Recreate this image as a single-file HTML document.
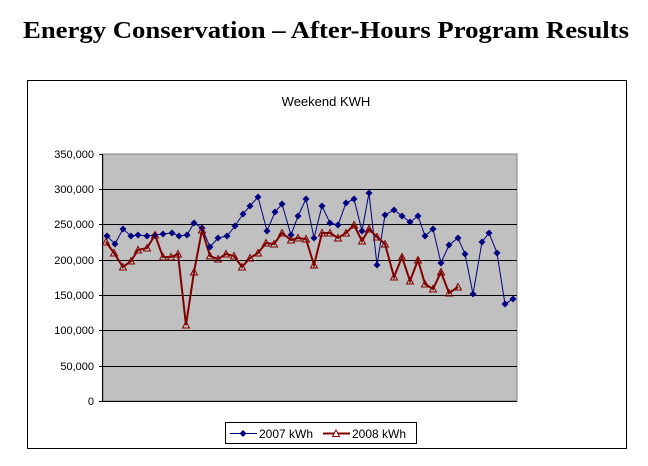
<!DOCTYPE html>
<html><head><meta charset="utf-8"><style>
html,body{margin:0;padding:0;background:#fff;width:648px;height:466px;overflow:hidden}
</style></head><body>
<svg width="648" height="466" xmlns="http://www.w3.org/2000/svg">
<text x="326" y="38" text-anchor="middle" font-family="Liberation Serif, serif" font-weight="bold" font-size="24" textLength="606" lengthAdjust="spacingAndGlyphs">Energy Conservation – After-Hours Program Results</text>
<rect x="27.5" y="80.5" width="599" height="368" fill="#fff" stroke="#000" stroke-width="1"/>
<text x="326" y="106" text-anchor="middle" font-family="Liberation Sans, sans-serif" font-size="13">Weekend KWH</text>
<rect x="103" y="154" width="414" height="247" fill="#c0c0c0" stroke="#808080" stroke-width="1"/>
<g stroke="#000" stroke-width="1">
<line x1="103" y1="189.5" x2="517" y2="189.5"/><line x1="103" y1="224.5" x2="517" y2="224.5"/>
<line x1="103" y1="260.5" x2="517" y2="260.5"/><line x1="103" y1="295.5" x2="517" y2="295.5"/>
<line x1="103" y1="330.5" x2="517" y2="330.5"/><line x1="103" y1="366.5" x2="517" y2="366.5"/>
<line x1="102.5" y1="154" x2="102.5" y2="401"/><line x1="102.5" y1="401.5" x2="517" y2="401.5"/>
<line x1="99" y1="154.5" x2="103" y2="154.5"/><line x1="99" y1="189.5" x2="103" y2="189.5"/><line x1="99" y1="224.5" x2="103" y2="224.5"/><line x1="99" y1="260.5" x2="103" y2="260.5"/><line x1="99" y1="295.5" x2="103" y2="295.5"/><line x1="99" y1="330.5" x2="103" y2="330.5"/><line x1="99" y1="366.5" x2="103" y2="366.5"/><line x1="99" y1="401.5" x2="103" y2="401.5"/>
</g>
<g font-family="Liberation Sans, sans-serif" font-size="11" text-anchor="end">
<text x="94" y="158">350,000</text><text x="94" y="193">300,000</text><text x="94" y="228">250,000</text><text x="94" y="264">200,000</text><text x="94" y="299">150,000</text><text x="94" y="334">100,000</text><text x="94" y="370">50,000</text><text x="94" y="405">0</text>
</g>
<polyline fill="none" stroke="#000080" stroke-width="1" points="107,236 115,244 123,229 131,236 138,235 147,236 155,235 163,234 172,233 179,236 187,235 194,223 202,228 210,247 218,238 227,236 235,226 243,214 250,206 258,197 267,231 275,212 282,204 291,235 298,216 306,199 314,238 322,206 330,223 338,225 346,203 354,199 362,231 369,193 377,265 385,215 394,210 402,216 410,222 418,216 425,236 433,229 441,263 449,245 458,238 465,254 473,294 482,242 489,233 497,253 505,304 513,299"/>
<polyline fill="none" stroke="#800000" stroke-width="2" points="106,242 114,253 123,267 131,261 138,250 147,248 155,235 163,257 171,257 178,254 186,325 194,272 202,230 210,256 218,259 226,254 234,256 242,267 250,258 258,253 266,243 274,244 282,233 291,240 298,238 306,239 314,265 322,233 330,233 338,238 346,233 354,225 362,241 369,229 377,237 385,244 394,277 402,257 410,281 418,260 425,284 433,289 441,272 449,293 458,287"/>
<script>
var b="107,236 115,244 123,229 131,236 138,235 147,236 155,235 163,234 172,233 179,236 187,235 194,223 202,228 210,247 218,238 227,236 235,226 243,214 250,206 258,197 267,231 275,212 282,204 291,235 298,216 306,199 314,238 322,206 330,223 338,225 346,203 354,199 362,231 369,193 377,265 385,215 394,210 402,216 410,222 418,216 425,236 433,229 441,263 449,245 458,238 465,254 473,294 482,242 489,233 497,253 505,304 513,299";
var r="106,242 114,253 123,267 131,261 138,250 147,248 155,235 163,257 171,257 178,254 186,325 194,272 202,230 210,256 218,259 226,254 234,256 242,267 250,258 258,253 266,243 274,244 282,233 291,240 298,238 306,239 314,265 322,233 330,233 338,238 346,233 354,225 362,241 369,229 377,237 385,244 394,277 402,257 410,281 418,260 425,284 433,289 441,272 449,293 458,287";
var s=document.querySelector('svg'),ns="http://www.w3.org/2000/svg";
b.split(' ').forEach(function(p){var c=p.split(',').map(Number);var e=document.createElementNS(ns,'polygon');e.setAttribute('points',(c[0])+','+(c[1]-3.5)+' '+(c[0]+3.5)+','+c[1]+' '+c[0]+','+(c[1]+3.5)+' '+(c[0]-3.5)+','+c[1]);e.setAttribute('fill','#000080');s.appendChild(e);});
r.split(' ').forEach(function(p){var c=p.split(',').map(Number);var e=document.createElementNS(ns,'polygon');e.setAttribute('points',c[0]+','+(c[1]-3.5)+' '+(c[0]+3.5)+','+(c[1]+3)+' '+(c[0]-3.5)+','+(c[1]+3));e.setAttribute('fill','none');e.setAttribute('stroke','#800000');e.setAttribute('stroke-width','1');s.appendChild(e);});
</script>
<rect x="225.5" y="422.5" width="191" height="21" fill="#fff" stroke="#000"/>
<line x1="230" y1="433.5" x2="257" y2="433.5" stroke="#000080" stroke-width="1"/>
<polygon points="243,430 246.5,433.5 243,437 239.5,433.5" fill="#000080"/>
<text x="259" y="438" font-family="Liberation Sans, sans-serif" font-size="12">2007 kWh</text>
<line x1="323" y1="433.5" x2="350" y2="433.5" stroke="#800000" stroke-width="2"/>
<polygon points="336,430 339.5,436.5 332.5,436.5" fill="#fff" stroke="#800000"/>
<text x="352" y="438" font-family="Liberation Sans, sans-serif" font-size="12">2008 kWh</text>
</svg>
</body></html>
